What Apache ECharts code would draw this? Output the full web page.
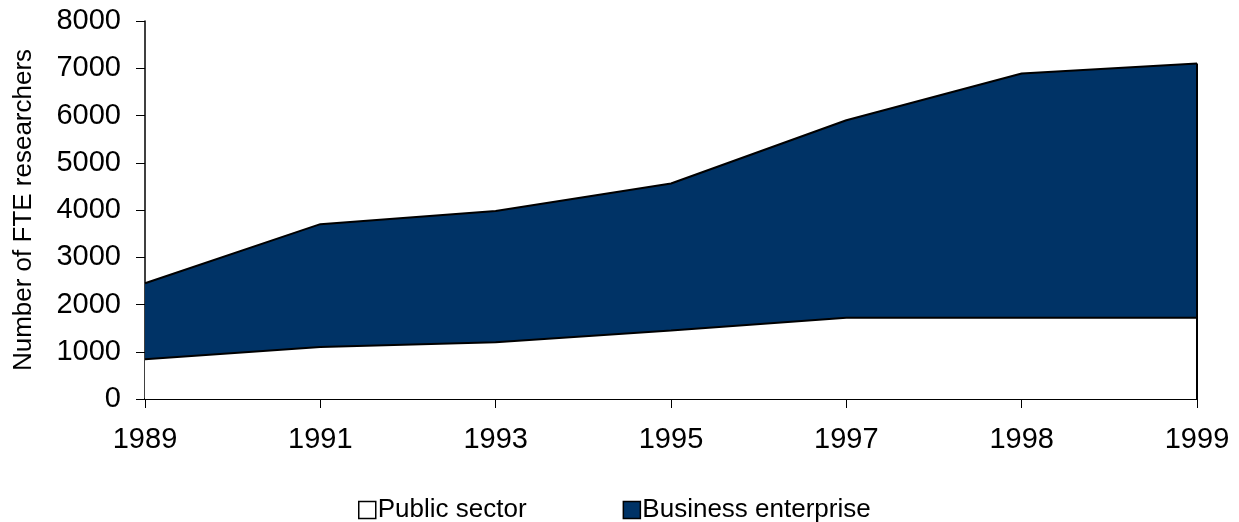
<!DOCTYPE html>
<html>
<head>
<meta charset="utf-8">
<script src="https://cdn.jsdelivr.net/npm/echarts@6/dist/echarts.min.js"></script>
<style>html,body{margin:0;padding:0;background:#fff}#c{width:1239px;height:522px}</style>
</head>
<body>
<div id="c"></div>
<script>
const years = ['1989', '1991', '1993', '1995', '1997', '1998', '1999'];
const publicSector = [840, 1100, 1200, 1450, 1720, 1720, 1720];
const businessEnterprise = [1610, 2600, 2780, 3110, 4180, 5170, 5380];
const yTicks = { min: 0, max: 8000, interval: 1000 };

const FONT = '"Liberation Sans", Arial, sans-serif';
const NAVY = '#003366';
const last = years.length - 1;
const lastTotal = publicSector[last] + businessEnterprise[last];

const chart = echarts.init(document.getElementById('c'), null, { renderer: 'canvas' });
chart.setOption({
  animation: false,
  backgroundColor: '#fff',
  textStyle: { fontFamily: FONT },
  grid: { left: 145, right: 42, top: 21, bottom: 123, containLabel: false },
  legend: {
    left: 353, top: 492,
    itemWidth: 17, itemHeight: 17, itemGap: 96,
    icon: 'rect',
    textStyle: { fontFamily: FONT, fontSize: 26, color: '#000', padding: [0, 0, 0, -3] },
    data: [
      { name: 'Public sector', itemStyle: { color: '#fff', borderColor: '#000', borderWidth: 1.5 } },
      { name: 'Business enterprise', itemStyle: { color: NAVY, borderColor: '#000', borderWidth: 1.5 } }
    ]
  },
  xAxis: {
    type: 'category',
    data: years,
    boundaryGap: false,
    axisLine: { lineStyle: { color: '#000', width: 2 } },
    axisTick: { show: true, length: 9, lineStyle: { color: '#000', width: 1 } },
    axisLabel: { fontFamily: FONT, fontSize: 29, color: '#000', margin: 26 },
    splitLine: { show: false }
  },
  yAxis: {
    type: 'value',
    min: yTicks.min, max: yTicks.max, interval: yTicks.interval,
    name: 'Number of FTE researchers',
    nameLocation: 'middle',
    nameGap: 108,
    nameTextStyle: { fontFamily: FONT, fontSize: 26, color: '#000' },
    axisLine: { show: true, lineStyle: { color: '#000', width: 1.5 } },
    axisTick: { show: true, length: 9, lineStyle: { color: '#000', width: 1 } },
    axisLabel: { fontFamily: FONT, fontSize: 29, color: '#000', margin: 24, formatter: v => String(v) },
    splitLine: { show: false }
  },
  series: [
    {
      name: 'Public sector',
      type: 'line',
      stack: 'total',
      data: publicSector,
      symbol: 'none',
      z: 3,
      lineStyle: { color: '#000', width: 2 },
      itemStyle: { color: '#fff', borderColor: '#000' },
      areaStyle: { color: '#fff', opacity: 1 }
    },
    {
      name: 'Business enterprise',
      type: 'line',
      stack: 'total',
      data: businessEnterprise,
      symbol: 'none',
      z: 2,
      lineStyle: { color: '#000', width: 2 },
      itemStyle: { color: NAVY, borderColor: '#000' },
      areaStyle: { color: NAVY, opacity: 1 },
      markLine: {
        silent: true,
        symbol: 'none',
        label: { show: false },
        lineStyle: { color: '#000', width: 2, type: 'solid' },
        data: [[{ coord: [years[last], 0] }, { coord: [years[last], lastTotal] }]]
      }
    }
  ]
});
</script>
</body>
</html>
